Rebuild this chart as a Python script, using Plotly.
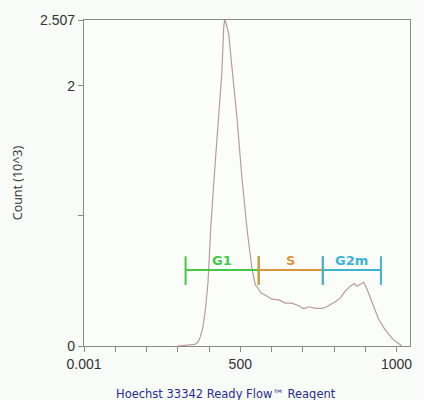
import plotly.graph_objects as go

# Histogram data (Hoechst channel vs count in thousands)
channel = [300, 320, 340, 355, 365, 372, 380, 389, 397, 405, 415, 431, 441, 447, 450,
           455, 463, 471, 479, 490, 505, 522, 537, 548, 554, 565, 581, 601, 623, 644,
           665, 687, 700, 708, 716, 724, 740, 751, 761, 775, 790, 804, 820, 835, 852,
           865, 873, 885, 895, 905, 917, 930, 942, 962, 985, 1000, 1010, 1017]
count = [0.0, 0.003, 0.006, 0.012, 0.03, 0.07, 0.14, 0.29, 0.5, 0.89, 1.25, 1.74, 2.1, 2.45, 2.507,
         2.48, 2.40, 2.2, 2.02, 1.74, 1.3, 0.89, 0.6, 0.47, 0.455, 0.41, 0.39, 0.36, 0.355, 0.33,
         0.33, 0.31, 0.29, 0.29, 0.30, 0.30, 0.29, 0.29, 0.29, 0.30, 0.32, 0.34, 0.37, 0.42, 0.46,
         0.48, 0.46, 0.48, 0.49, 0.44, 0.36, 0.29, 0.21, 0.13, 0.06, 0.03, 0.008, 0.0]

# Cell-cycle gates
gate_names = ["G1", "S", "G2m"]
gate_start = [325, 559, 764]
gate_end = [559, 764, 950]
gate_colors = ["#45c845", "#d8963c", "#3cb4d2"]
gate_level = 0.585
gate_tick_lo = 0.47
gate_tick_hi = 0.69
gate_label_level = 0.66

x_tickvals = [0, 100, 200, 300, 400, 500, 600, 700, 800, 900, 1000]
x_ticktext = ["0.001", "", "", "", "", "500", "", "", "", "", "1000"]
y_tickvals = [0, 1, 2, 2.507]
y_ticktext = ["0", "", "2", "2.507"]

fig = go.Figure()
fig.add_trace(go.Scatter(x=channel, y=count, mode="lines",
                         line=dict(color="#b89c9c", width=1.2), hoverinfo="skip"))

for name, s, e, c in zip(gate_names, gate_start, gate_end, gate_colors):
    fig.add_trace(go.Scatter(
        x=[s, e, None, s, s, None, e, e],
        y=[gate_level, gate_level, None, gate_tick_lo, gate_tick_hi, None, gate_tick_lo, gate_tick_hi],
        mode="lines", line=dict(color=c, width=2), hoverinfo="skip"))
    fig.add_annotation(x=(s + e) / 2, y=gate_label_level, text="<b>%s</b>" % name,
                       showarrow=False, font=dict(family="DejaVu Sans", size=13, color=c))

fig.add_annotation(xref="paper", yref="paper", x=0.436, y=-0.146, yanchor="middle",
                   text="Hoechst 33342 Ready Flow™ Reagent", showarrow=False,
                   font=dict(family="DejaVu Sans", size=11.5, color="#2a2d8c"))

axis_common = dict(showline=True, linecolor="#8a8a8a", linewidth=1.2, mirror=True,
                   showgrid=False, zeroline=False, ticks="outside", tickcolor="#8a8a8a",
                   ticklen=5, tickfont=dict(family="Liberation Sans", size=14, color="#333333"))

fig.update_xaxes(range=[0, 1043], tickvals=x_tickvals, ticktext=x_ticktext, **axis_common)
fig.update_yaxes(range=[0, 2.507], tickvals=y_tickvals, ticktext=y_ticktext,
                 title=dict(text="Count (10^3)", font=dict(family="Open Sans", size=12.5, color="#333333"),
                            standoff=14),
                 **axis_common)

fig.update_layout(width=424, height=400, showlegend=False,
                  margin=dict(l=84, r=12, t=20, b=54),
                  paper_bgcolor="#f9fcf9", plot_bgcolor="#fbfdfb")

fig.write_html("out.html", config={"displayModeBar": False},
               post_script="document.body.style.margin='0';")
